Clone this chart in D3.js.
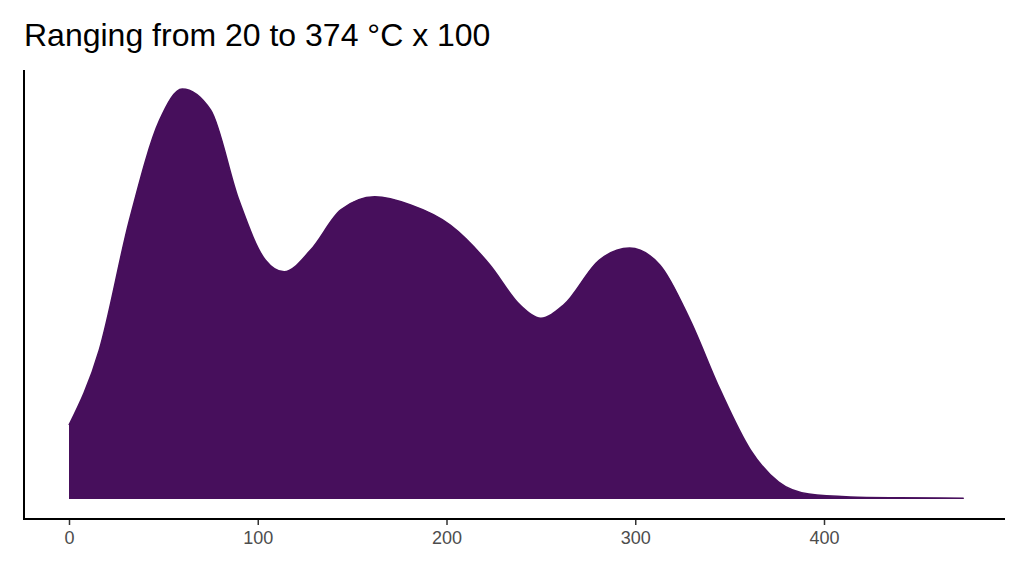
<!DOCTYPE html>
<html><head><meta charset="utf-8">
<script src="https://cdn.jsdelivr.net/npm/d3@7"></script>
<style>body{margin:0;background:#fff}</style></head>
<body><svg id="c" width="1024" height="576"></svg>
<script>
const xs = [0,16,32,48,60,75,90,104,114,128,144,162,181,202,223,239,250,262,281,297,313,329,345,361,376,392,414,440,474];
const dens = [0.18,0.363,0.68,0.924,1.0,0.949,0.729,0.583,0.554,0.607,0.705,0.737,0.717,0.668,0.571,0.473,0.441,0.473,0.583,0.612,0.571,0.437,0.266,0.12,0.041,0.012,0.005,0.003,0.002];
const xTicks = [0,100,200,300,400];
const title = "Ranging from 20 to 374 °C x 100";

const svg = d3.select("#c");
const x = d3.scaleLinear().domain([0,400]).range([69,824]);
const y = d3.scaleLinear().domain([0,1]).range([499,89]);
const data = xs.map((v,i)=>({x:v,y:dens[i]}));
const area = d3.area().x(d=>x(d.x)).y0(y(0)).y1(d=>y(d.y)).curve(d3.curveMonotoneX);
svg.append("path").datum(data).attr("d",area).attr("fill","#470f5c");
const line = d3.line().x(d=>x(d.x)).y(d=>y(d.y)).curve(d3.curveMonotoneX);
svg.append("path").datum(data).attr("d",line).attr("fill","none").attr("stroke","#470f5c").attr("stroke-width",1.5);

svg.append("line").attr("x1",24).attr("x2",24).attr("y1",70).attr("y2",520).attr("stroke","#000").attr("stroke-width",2);
const ax = svg.append("g").attr("transform","translate(0,519)")
  .call(d3.axisBottom(x).tickValues(xTicks).tickSize(6).tickPadding(6).tickFormat(d3.format("d")));
ax.select(".domain").remove();
svg.append("line").attr("x1",24).attr("x2",1005).attr("y1",519).attr("y2",519).attr("stroke","#000").attr("stroke-width",2);
ax.selectAll("line").attr("stroke","#333").attr("stroke-width",1.5);
ax.selectAll("text").attr("fill","#4d4d4d").style("font-family","Liberation Sans, Arial, sans-serif").style("font-size","18px");
svg.append("text").attr("x",24).attr("y",46).text(title)
  .style("font-family","Liberation Sans, Arial, sans-serif").style("font-size","32px").attr("fill","#000");
</script></body></html>
